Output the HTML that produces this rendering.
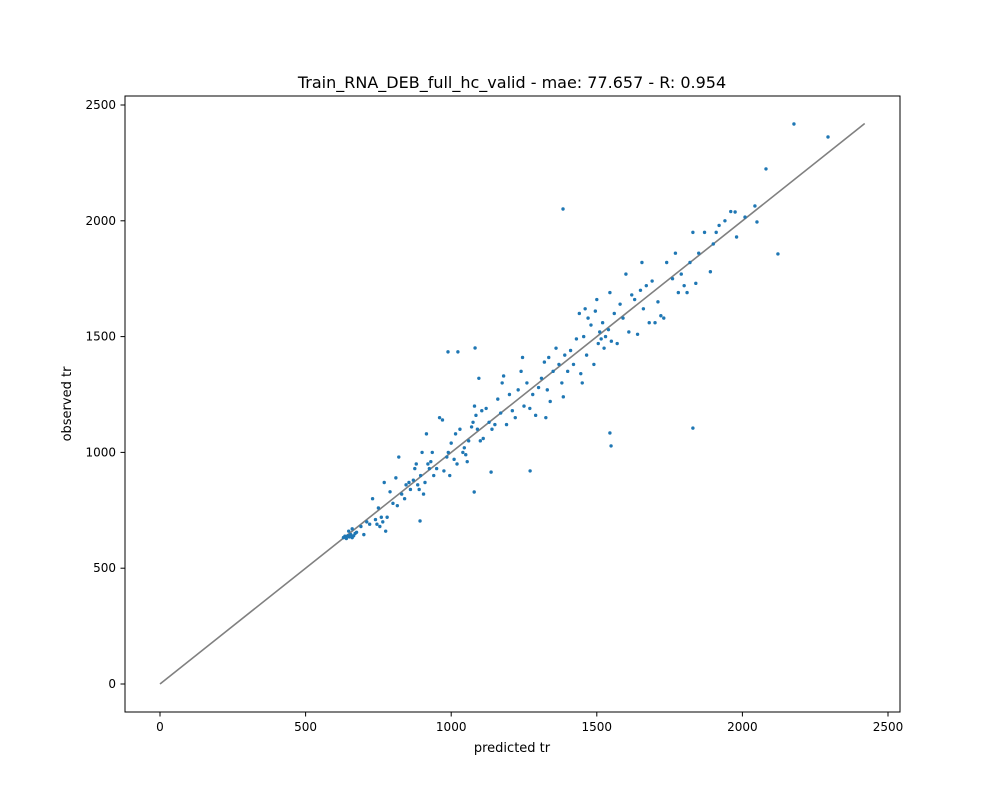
<!DOCTYPE html>
<html><head><meta charset="utf-8"><style>body{margin:0;background:#fff}svg{display:block;font-family:"DejaVu Sans","Liberation Sans",sans-serif}</style></head>
<body>
<svg id="chart" width="1000" height="800" xmlns="http://www.w3.org/2000/svg">
<rect width="1000" height="800" fill="#fff"/>
<text x="512" y="88" text-anchor="middle" font-size="16">Train_RNA_DEB_full_hc_valid - mae: 77.657 - R: 0.954</text>
<g id="marks"></g>
<rect x="125" y="96" width="775" height="616" fill="none" stroke="#000" stroke-width="1"/>
<g id="axes"></g>
<text x="512" y="752" text-anchor="middle" font-size="13">predicted tr</text>
<text transform="translate(71,404) rotate(-90)" text-anchor="middle" font-size="13">observed tr</text>
</svg>
<script>
const xTicks=[0,500,1000,1500,2000,2500];
const yTicks=[0,500,1000,1500,2000,2500];
const lineRange=[0,2420];
const predicted=[630,640,645,650,655,660,665,670,648,635,675,660,690,700,710,720,730,740,745,750,755,760,765,770,775,780,790,800,810,815,820,830,840,845,855,860,870,875,880,885,890,895,900,905,910,915,920,925,930,935,940,950,960,970,975,985,990,995,1000,1010,1015,1020,1030,1040,1045,1050,1055,1060,1070,1075,1080,1085,1090,1095,1100,1105,1110,1120,1130,1140,1150,1160,1170,1175,1180,1190,1200,1210,1220,1230,1240,1245,1250,1260,1270,1280,1290,1300,1310,1320,1325,1330,1335,1340,1350,1360,1370,1380,1385,1390,1400,1410,1420,1430,1440,1445,1450,1455,1460,1465,1470,1480,1490,1495,1500,1505,1510,1515,1520,1525,1530,1540,1545,1550,1560,1570,1580,1590,1600,1610,1620,1630,1640,1650,1655,1660,1670,1680,1690,1700,1710,1720,1730,1740,1760,1770,1780,1790,1800,1810,1820,1830,1840,1850,1870,1890,1900,1910,1920,1940,1960,1980,2177,2294,2081,1384,2122,1830,1545,1549,989,1023,1082,1271,1137,1079,893,2043,2009,2050,1975];
const observed=[632,628,640,635,645,632,640,650,660,638,655,670,680,645,700,690,800,710,690,760,680,720,700,870,660,720,830,780,890,770,980,820,800,860,870,840,880,930,950,860,840,900,1000,820,870,1080,950,930,960,1000,900,930,1150,1140,920,980,1000,900,1040,970,1080,950,1100,1000,1020,990,960,1050,1110,1130,1200,1160,1100,1320,1050,1180,1060,1190,1130,1100,1120,1230,1170,1300,1330,1120,1250,1180,1150,1270,1350,1410,1200,1300,1190,1250,1160,1280,1320,1390,1150,1270,1410,1220,1350,1450,1380,1300,1240,1420,1350,1440,1380,1490,1600,1340,1300,1500,1620,1420,1580,1550,1380,1610,1660,1470,1520,1490,1560,1450,1500,1530,1690,1480,1600,1470,1640,1580,1770,1520,1680,1660,1510,1700,1820,1620,1720,1560,1740,1560,1650,1590,1580,1820,1750,1860,1690,1770,1720,1690,1820,1950,1730,1860,1950,1780,1900,1950,1980,2000,2040,1930,2418,2362,2224,2051,1857,1105,1084,1028,1434,1434,1451,920,915,829,704,2064,2016,1995,2038];
const NS='http://www.w3.org/2000/svg';
const X=v=>160+v*0.2912, Y=v=>684-v*0.2316;
const marks=document.getElementById('marks'), axes=document.getElementById('axes');
function mk(t,a,p){const e=document.createElementNS(NS,t);for(const k in a)e.setAttribute(k,a[k]);p.appendChild(e);return e;}
const ln=mk('line',{x1:X(lineRange[0]),y1:Y(lineRange[0]),x2:X(lineRange[1]),y2:Y(lineRange[1]),stroke:'#808080','stroke-width':1.6},marks);


predicted.forEach((p,i)=>{const c=mk('circle',{cx:X(p),cy:Y(observed[i]),r:1.7,fill:'#1f77b4'},marks);

});
xTicks.forEach(t=>{const l=mk('line',{x1:X(t),x2:X(t),y1:712,y2:716.5,stroke:'#000'},axes);


const s=mk('text',{x:X(t),y:731,'text-anchor':'middle','font-size':12},axes);s.textContent=t;

});
yTicks.forEach(t=>{const l=mk('line',{x1:120.5,x2:125,y1:Y(t),y2:Y(t),stroke:'#000'},axes);


const s=mk('text',{x:116,y:Y(t)+4,'text-anchor':'end','font-size':12},axes);s.textContent=t;

});
</script>
</body></html>
